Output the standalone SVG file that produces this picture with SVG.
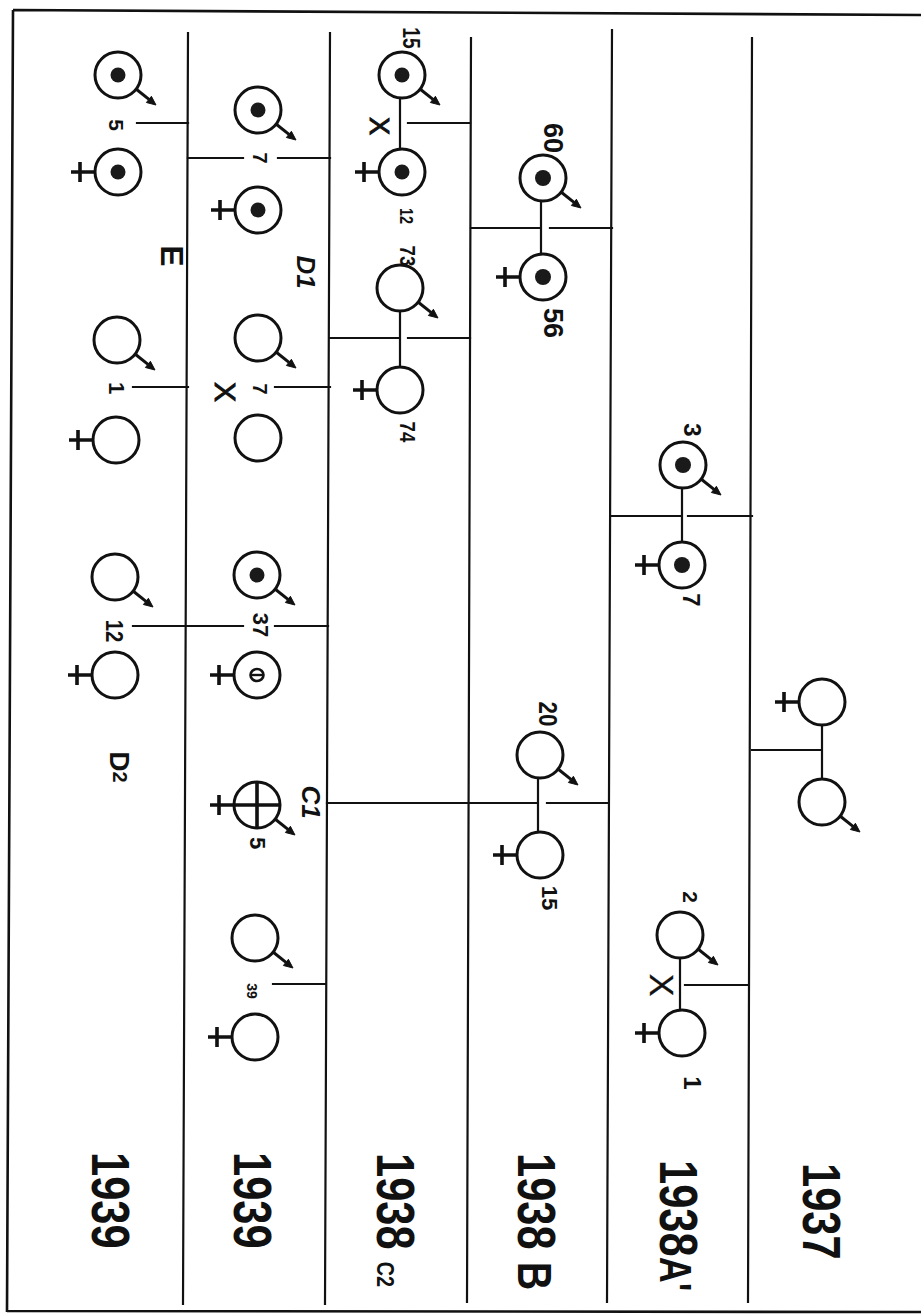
<svg xmlns="http://www.w3.org/2000/svg" xmlns:xlink="http://www.w3.org/1999/xlink" width="921" height="1314" viewBox="0 0 921 1314">
<style>
.ln{stroke:#111;stroke-width:2.2;fill:none;stroke-linecap:square}
.fr{stroke:#111;stroke-width:2.6;fill:none}
.c{fill:#fff;stroke:#111;stroke-width:3}
.dot{fill:#1a1a1a}
.st{stroke:#111;stroke-width:3;fill:none}
.ah{fill:#111;stroke:#111;stroke-width:1}
.pl{stroke:#111;stroke-width:3.6;fill:none}
.t{font-family:"Liberation Sans",Arial,sans-serif;font-weight:bold;fill:#111}
.x{font-family:"Liberation Sans",Arial,sans-serif;font-weight:normal;fill:#111;stroke:#111;stroke-width:1}
</style>
<defs>
<circle id="ring" class="c" r="23"/>
<g id="arr"><path class="st" d="M18,14 L31,24.4"/><path class="ah" d="M38,30 L28.4,27.5 L33.4,21.3 Z"/></g>
<path id="plus" class="pl" d="M-23,0 H-47 M-38,-10 V10"/>
<g id="male"><use href="#ring"/><use href="#arr"/></g>
<g id="female"><use href="#ring"/><use href="#plus"/></g>
</defs>
<rect width="921" height="1314" fill="#fff"/>

<g id="frame">
<path class="fr" d="M13,10 L921,15 M13,10 L7,1312 M7,1311 L921,1312"/>
<path class="ln" d="M188,33 L183,1304 M330,33 L325,1304 M471,38 L467,1302 M612,30 L607,1302 M752,38 L748,1302"/>
</g>

<g id="connectors">
<path class="ln" d="M137,123 H188 M188,158 H243 M278,158 H330 M133,387 H188 M275,387 H330 M133,626 H243 M275,626 H328 M273,984 H325"/>
<path class="ln" d="M408,123 H470 M400,98 V150 M330,338 H398 M408,338 H470 M400,312 V366"/>
<path class="ln" d="M471,228 H540 M550,228 H612 M541,202 V253 M327,803 H537 M547,803 H608 M538,778 V831"/>
<path class="ln" d="M612,516 H680 M688,516 H752 M682,488 V541 M685,985 H748 M680,958 V1010"/>
<path class="ln" d="M752,750 H822 M822,725 V779"/>
</g>

<!-- Column 1: 1939 E / D2 -->
<g id="n-e-male5" transform="translate(118,75)"><use href="#male"/><circle class="dot" r="7.5"/></g>
<g id="n-e-fem5" transform="translate(118,172)"><use href="#female"/><circle class="dot" r="7.5"/></g>
<g id="n-e-male1" transform="translate(117,340)"><use href="#male"/></g>
<g id="n-e-fem1" transform="translate(116,440)"><use href="#female"/></g>
<g id="n-d2-male12" transform="translate(115,577)"><use href="#male"/></g>
<g id="n-d2-fem12" transform="translate(115,675)"><use href="#female"/></g>

<!-- Column 2: 1939 D1 / C1 -->
<g id="n-d1-male7" transform="translate(258,110)"><use href="#male"/><circle class="dot" r="7.5"/></g>
<g id="n-d1-fem7" transform="translate(258,210)"><use href="#female"/><circle class="dot" r="7.5"/></g>
<g id="n-d1-male7b" transform="translate(258,338)"><use href="#male"/></g>
<g id="n-d1-fem7b" transform="translate(258,438)"><use href="#ring"/></g>
<g id="n-c1-male37" transform="translate(257,575)"><use href="#male"/><circle class="dot" r="7.5"/></g>
<g id="n-c1-fem37" transform="translate(257,675)"><use href="#female"/><ellipse cx="0" cy="0" rx="6.5" ry="6" fill="#fff" stroke="#111" stroke-width="2.6"/><path class="st" d="M-6,0 H6" style="stroke-width:2.4"/></g>
<g id="n-c1-herm5" transform="translate(257,805)"><use href="#female"/><use href="#arr"/><path class="st" d="M-23,0 H23 M0,-23 V23" style="stroke-width:3.6"/></g>
<g id="n-c1-male39" transform="translate(255,938)"><use href="#male"/></g>
<g id="n-c1-fem39" transform="translate(255,1037)"><use href="#female"/></g>

<!-- Column 3: 1938 C2 -->
<g id="n-c2-male15" transform="translate(402,75)"><use href="#male"/><circle class="dot" r="7.5"/></g>
<g id="n-c2-fem12" transform="translate(402,172)"><use href="#female"/><circle class="dot" r="7.5"/></g>
<g id="n-c2-male73" transform="translate(400,288)"><use href="#male"/></g>
<g id="n-c2-fem74" transform="translate(400,390)"><use href="#female"/></g>

<!-- Column 4: 1938 B -->
<g id="n-b-male60" transform="translate(543,178)"><use href="#male"/><circle class="dot" r="8"/></g>
<g id="n-b-fem56" transform="translate(543,277)"><use href="#female"/><circle class="dot" r="8"/></g>
<g id="n-b-male20" transform="translate(540,755)"><use href="#male"/></g>
<g id="n-b-fem15" transform="translate(540,855)"><use href="#female"/></g>

<!-- Column 5: 1938 A' -->
<g id="n-a-male3" transform="translate(683,465)"><use href="#male"/><circle class="dot" r="8"/></g>
<g id="n-a-fem7" transform="translate(682,565)"><use href="#female"/><circle class="dot" r="8"/></g>
<g id="n-a-male2" transform="translate(680,935)"><use href="#male"/></g>
<g id="n-a-fem1" transform="translate(682,1033)"><use href="#female"/></g>

<!-- Column 6: 1937 -->
<g id="n-1937-fem" transform="translate(822,702)"><use href="#female"/></g>
<g id="n-1937-male" transform="translate(822,802)"><use href="#male"/></g>

<g id="labels" text-anchor="middle" dominant-baseline="central">
<text class="t" font-size="21" transform="translate(116,125) rotate(90)">5</text>
<text class="t" font-size="32" font-weight="normal" transform="translate(172,256) rotate(90)">E</text>
<text class="t" font-size="22" transform="translate(116,388) rotate(90)">1</text>
<text class="t" font-size="24" transform="translate(114,631) rotate(90) scale(0.85,1)">12</text>
<text class="t" transform="translate(120,767) rotate(90)"><tspan font-size="28">D</tspan><tspan font-size="20">2</tspan></text>

<text class="t" font-size="20" transform="translate(260,158) rotate(90)">7</text>
<text class="t" font-size="26" font-style="italic" transform="translate(306,272) rotate(90)">D1</text>
<text class="t" font-size="20" transform="translate(260,389) rotate(90)">7</text>
<text class="x" font-size="30" transform="translate(225,392) rotate(90)">X</text>
<text class="t" font-size="22" transform="translate(260,625) rotate(90)">37</text>
<text class="t" font-size="26" font-style="italic" transform="translate(311,802) rotate(90)">C1</text>
<text class="t" font-size="22" transform="translate(257,843) rotate(90)">5</text>
<text class="t" font-size="14" transform="translate(252,991) rotate(90)">39</text>

<text class="t" font-size="24" transform="translate(411,38) rotate(90) scale(0.8,1)">15</text>
<text class="x" font-size="27" transform="translate(379,126) rotate(90)">X</text>
<text class="t" font-size="18" transform="translate(407,216) rotate(90) scale(0.8,1)">12</text>
<text class="t" font-size="22" transform="translate(408,256) rotate(90) scale(0.85,1)">73</text>
<text class="t" font-size="22" transform="translate(408,432) rotate(90) scale(0.85,1)">74</text>

<text class="t" font-size="27" transform="translate(553,138) rotate(90)">60</text>
<text class="t" font-size="27" transform="translate(553,323) rotate(90)">56</text>
<text class="t" font-size="25" transform="translate(548,714) rotate(90) scale(0.9,1)">20</text>
<text class="t" font-size="22" transform="translate(549,898) rotate(90)">15</text>

<text class="t" font-size="24" transform="translate(692,430) rotate(90)">3</text>
<text class="t" font-size="24" transform="translate(691,600) rotate(90)">7</text>
<text class="t" font-size="21" transform="translate(690,897) rotate(90)">2</text>
<text class="x" font-size="34" style="stroke-width:0.3" transform="translate(662,985) rotate(90)">X</text>
<text class="t" font-size="24" transform="translate(692,1083) rotate(90)">1</text>
</g>

<g id="years">
<text class="t" font-size="53" transform="translate(92,1152) rotate(90) scale(0.82,1)">1939</text>
<text class="t" font-size="53" transform="translate(234,1152) rotate(90) scale(0.82,1)">1939</text>
<text class="t" font-size="53" transform="translate(377,1153) rotate(90) scale(0.82,1)">1938 <tspan font-size="24">C2</tspan></text>
<text class="t" font-size="53" transform="translate(518,1153) rotate(90) scale(0.82,1)">1938 <tspan font-size="48">B</tspan></text>
<text class="t" font-size="53" transform="translate(660,1160) rotate(90) scale(0.82,1)">1938<tspan font-size="44">A'</tspan></text>
<text class="t" font-size="53" transform="translate(803,1163) rotate(90) scale(0.82,1)">1937</text>
</g>
</svg>
